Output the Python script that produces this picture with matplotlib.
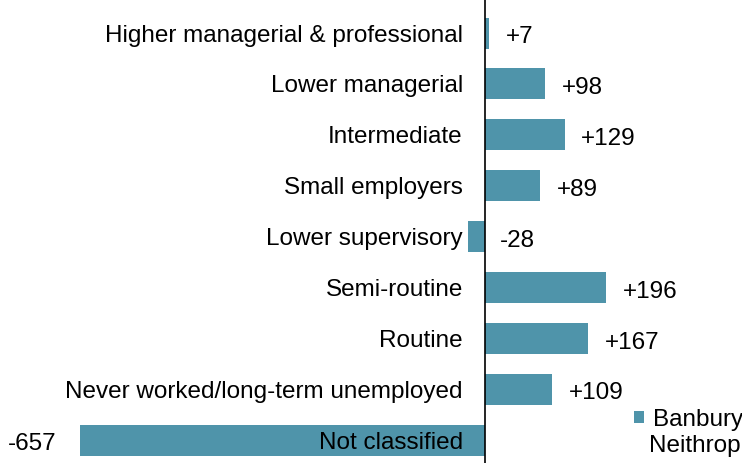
import matplotlib.pyplot as plt
import numpy as np

plt.rcParams['font.family'] = ['Liberation Sans', 'DejaVu Sans']

categories = ['Higher managerial & professional', 'Lower managerial', 'Intermediate',
              'Small employers', 'Lower supervisory', 'Semi-routine', 'Routine',
              'Never worked/long-term unemployed', 'Not classified']
values = [7, 98, 129, 89, -28, 196, 167, 109, -657]
value_labels = ['+7', '+98', '+129', '+89', '-28', '+196', '+167', '+109', '-657']
series_name = ['Banbury', 'Neithrop']
bar_color = '#4f94aa'
fs = 17.5

fig = plt.figure(figsize=(7.42, 4.63), dpi=100)
ax = fig.add_axes([0, 0, 1, 1])

y = np.arange(len(categories))
ax.barh(y, values, height=0.61, color=bar_color, label=series_name[0])

ax.set_xlim(-787, 417)
ax.set_ylim(8.45, -0.65)

for side in ['top', 'right', 'bottom']:
    ax.spines[side].set_visible(False)
ax.spines['left'].set_position(('data', 0))
ax.spines['left'].set_linewidth(1.2)
ax.set_xticks([])
ax.set_yticks(y)
ax.set_yticklabels(categories, fontsize=fs)
ax.tick_params(axis='y', length=0, pad=16)
ax.set_facecolor('none')

# value labels
for i, (v, lab) in enumerate(zip(values, value_labels)):
    if v >= 0:
        ax.annotate(lab, (v, i), xytext=(12, -3), textcoords='offset points',
                    ha='left', va='center', fontsize=fs)
    elif v > -100:
        ax.annotate(lab, (0, i), xytext=(11, -3), textcoords='offset points',
                    ha='left', va='center', fontsize=fs)
    else:
        ax.annotate(lab, (v, i), xytext=(-17, -3), textcoords='offset points',
                    ha='right', va='center', fontsize=fs)

# legend: series name wraps onto two lines
ax.legend(loc='center left', bbox_to_anchor=(0.855, 0.093), bbox_transform=fig.transFigure,
          frameon=False, fontsize=fs, handlelength=0.4, handleheight=0.4,
          handletextpad=0.35, borderpad=0, borderaxespad=0)
fig.text(0.875, 0.037, series_name[1], fontsize=fs, ha='left', va='center')

fig.savefig('out.png', dpi=100)
